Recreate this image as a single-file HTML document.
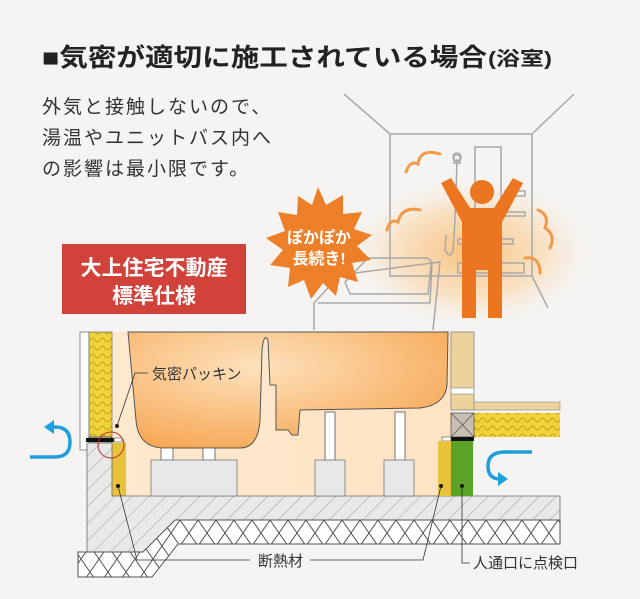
<!DOCTYPE html>
<html><head><meta charset="utf-8"><style>
html,body{margin:0;padding:0;background:#f5f4f2;}
svg{display:block;font-family:"Liberation Sans","Noto Sans CJK JP",sans-serif;}
</style></head><body>
<svg width="640" height="599" viewBox="0 0 640 599" xmlns="http://www.w3.org/2000/svg">
<defs>
<radialGradient id="glow" cx="0.5" cy="0.5" r="0.5">
<stop offset="0" stop-color="#f9b766" stop-opacity="0.85"/>
<stop offset="0.6" stop-color="#fbd6a6" stop-opacity="0.6"/>
<stop offset="1" stop-color="#f7efe6" stop-opacity="0"/>
</radialGradient>
<radialGradient id="tub" cx="0.4" cy="0.3" r="0.8">
<stop offset="0" stop-color="#fde2bd"/>
<stop offset="1" stop-color="#f6a44e"/>
</radialGradient>
<linearGradient id="peach" x1="0" x2="1"><stop offset="0" stop-color="#fde9cf"/><stop offset="1" stop-color="#fde3c3"/></linearGradient>
<pattern id="hatch" width="12" height="12" patternUnits="userSpaceOnUse" patternTransform="rotate(45)">
<rect width="12" height="12" fill="#e9e9e8"/><line x1="0" y1="0" x2="0" y2="12" stroke="#999" stroke-width="1"/>
</pattern>
<pattern id="grav" width="18" height="26" patternUnits="userSpaceOnUse">
<rect width="18" height="26" fill="#fff"/><path d="M0 0 L18 26 M18 0 L0 26" stroke="#555" stroke-width="1" fill="none"/>
</pattern>
<pattern id="glass" width="10" height="8" patternUnits="userSpaceOnUse">
<rect width="10" height="8" fill="#f2d23a"/><path d="M0 4 Q2.5 0 5 4 T10 4" stroke="#b89a10" stroke-width="0.8" fill="none"/>
</pattern>
</defs>

<!-- Title -->
<text x="42" y="66" font-size="25" font-weight="bold" fill="#222" textLength="445" lengthAdjust="spacingAndGlyphs">■気密が適切に施工されている場合</text>
<text x="488" y="65" font-size="19" font-weight="bold" fill="#222" textLength="64" lengthAdjust="spacingAndGlyphs">(浴室)</text>

<text font-size="19" fill="#333" letter-spacing="2">
<tspan x="42" y="113">外気と接触しないので、</tspan>
<tspan x="42" y="144">湯温やユニットバス内へ</tspan>
<tspan x="42" y="175">の影響は最小限です。</tspan>
</text>

<!-- bathroom -->
<ellipse cx="470" cy="252" rx="125" ry="75" fill="url(#glow)"/>
<g stroke="#a8a8a8" stroke-width="1.5" fill="none">
<line x1="344" y1="94" x2="390" y2="134"/>
<line x1="574" y1="94" x2="532" y2="134"/>
<rect x="390" y="134" width="142" height="142"/>
<line x1="532" y1="276" x2="548" y2="308"/>
<path d="M314 330 L314 303 L340 275 L440 262 L433 330"/>
<path d="M318 303 L430 303 L432 262"/>
<path d="M345 282 L368 258 L425 258 Q432 258 431 266 L428 294 L350 294 Z"/>
<rect x="475" y="147" width="26" height="88"/>
<rect x="458" y="239" width="55" height="5"/>
<rect x="458" y="263" width="66" height="10"/>
<rect x="505" y="191" width="20" height="5"/>
<rect x="505" y="212" width="20" height="4"/>
<path d="M457 159 Q455 230 453 250 Q450 260 445 250 L446 235"/>
<rect x="454" y="155" width="6" height="8"/>
<circle cx="457" cy="157" r="4"/>
</g>
<g stroke="#f09a4a" stroke-width="3" fill="none" stroke-linecap="round">
<path d="M406 172 Q410 160 418 164 Q420 148 440 154"/>
<path d="M387 230 Q390 218 398 222 Q402 206 420 210"/>
<path d="M538 210 Q550 215 545 228 Q556 235 550 248"/>
<path d="M525 258 Q540 256 540 273"/>
</g>
<!-- person -->
<g fill="#ec7520">
<circle cx="482" cy="192" r="12"/>
<path d="M441 183 L451 178 L470 208 L494 208 L513 178 L523 183 L502 222 L502 318 L488 318 L488 270 L476 270 L476 318 L462 318 L462 222 Z"/>
</g>
<!-- starburst -->
<polygon fill="#ec7f28" points="318,187 326,205 343,195 343,214 362,212 354,229 372,235 357,246 371,260 352,263 358,282 340,277 336,296 323,283 311,299 304,280 288,287 290,268 270,265 283,250 266,238 285,231 278,212 297,215 298,196 312,205"/>
<text x="319" y="243" font-size="16" font-weight="bold" fill="#fff" text-anchor="middle">ぽかぽか</text>
<text x="319" y="264" font-size="16" font-weight="bold" fill="#fff" text-anchor="middle">長続き!</text>

<!-- red box -->
<rect x="62" y="244" width="184" height="70" fill="#d1423a"/>
<text x="154" y="275" font-size="21" font-weight="bold" fill="#fff" text-anchor="middle">大上住宅不動産</text>
<text x="154" y="303" font-size="21" font-weight="bold" fill="#fff" text-anchor="middle">標準仕様</text>

<!-- cross-section -->
<rect x="112" y="332" width="339" height="164" fill="url(#peach)"/>
<!-- left wall -->
<rect x="80" y="332" width="9" height="118" fill="#fff" stroke="#777" stroke-width="0.8"/>
<rect x="89" y="332" width="23" height="105" fill="url(#glass)" stroke="#777" stroke-width="0.8"/>
<rect x="89" y="437" width="23" height="25" fill="#c8bfb4" stroke="#555" stroke-width="0.8"/>
<path d="M89 437 L112 462 M112 437 L89 462" stroke="#555" stroke-width="0.8"/>
<rect x="86" y="438" width="36" height="4" fill="#111"/>
<rect x="114" y="438" width="8" height="4" fill="#fff" stroke="#333" stroke-width="0.5"/>
<rect x="112" y="443" width="14" height="53" fill="#e8c23a"/>
<circle cx="118" cy="486" r="2" fill="#111"/>
<!-- slab & foundation -->
<path d="M87 443 L112 443 L112 496 L560 496 L560 520 L175 520 L143 552 L87 552 Z" fill="url(#hatch)" stroke="#666" stroke-width="0.8"/>
<path d="M175 520 L560 520 L560 544 L178 544 L152 577 L78 577 L78 552 L143 552 Z" fill="url(#grav)" stroke="#555" stroke-width="1"/>
<!-- tub -->
<path d="M128 332 L136 420 Q138 448 165 448 L240 448 Q258 448 260 420 L262 350 Q264 332 268 340 L270 385 L276 385 L276 430 L288 430 L292 435 L298 435 L300 410 L420 408 Q445 405 447 385 L448 332 Z" fill="url(#tub)" stroke="#555" stroke-width="1"/>
<!-- feet -->
<g fill="#fff" stroke="#555" stroke-width="0.8">
<rect x="161" y="448" width="12" height="12"/><rect x="203" y="448" width="12" height="12"/>
<rect x="325" y="412" width="10" height="48"/><rect x="395" y="412" width="10" height="48"/>
</g>
<g fill="#e8e8e8" stroke="#777" stroke-width="0.8">
<rect x="151" y="460" width="86" height="36"/>
<rect x="315" y="460" width="30" height="36"/>
<rect x="384" y="460" width="30" height="36"/>
</g>
<!-- right side -->
<rect x="451" y="332" width="23" height="78" fill="#ecd39c" stroke="#888" stroke-width="0.8"/>
<rect x="451" y="388" width="23" height="6" fill="#fff" stroke="#888" stroke-width="0.6"/>
<rect x="474" y="402" width="86" height="8" fill="#ecd39c" stroke="#888" stroke-width="0.6"/>
<rect x="474" y="413" width="86" height="24" fill="url(#glass)"/>
<rect x="451" y="413" width="23" height="24" fill="#c8bfb4" stroke="#555" stroke-width="0.8"/>
<path d="M451 413 L474 437 M474 413 L451 437" stroke="#555" stroke-width="0.8"/>
<rect x="451" y="437" width="23" height="4" fill="#111"/>
<rect x="442" y="437" width="9" height="4" fill="#fff" stroke="#333" stroke-width="0.5"/>
<rect x="438" y="441" width="13" height="55" fill="#e8c23a"/>
<rect x="451" y="441" width="22" height="55" fill="#5ba327"/>
<circle cx="441" cy="486" r="2" fill="#111"/><circle cx="462" cy="486" r="2" fill="#111"/>
<!-- red circle & packing leader -->
<circle cx="111" cy="445" r="13" fill="none" stroke="#c0272d" stroke-width="1"/>
<circle cx="117" cy="426" r="2" fill="#111"/>
<path d="M117 426 L135 373 L148 373" stroke="#333" fill="none" stroke-width="0.8"/>
<text x="152" y="379" font-size="15" fill="#333">気密パッキン</text>
<!-- leaders -->
<path d="M118 486 L137 560 L250 560 M310 560 L423 560 L441 486" stroke="#333" fill="none" stroke-width="0.8"/>
<text x="258" y="566" font-size="15" fill="#333">断熱材</text>
<path d="M462 486 L462 563 L470 563" stroke="#333" fill="none" stroke-width="0.8"/>
<text x="473" y="568" font-size="15" fill="#333">人通口に点検口</text>
<!-- blue arrows -->
<g stroke="#1fa0dd" stroke-width="3.5" fill="none">
<path d="M30 457 L55 457 Q70 457 70 442 Q70 427 55 427 L50 427"/>
<path d="M532 452 L505 452 Q488 452 488 466 Q488 479 500 479"/>
</g>
<polygon points="44,427 54,420 54,434" fill="#1fa0dd"/>
<polygon points="508,479 498,472 498,486" fill="#1fa0dd"/>
</svg>
</body></html>
